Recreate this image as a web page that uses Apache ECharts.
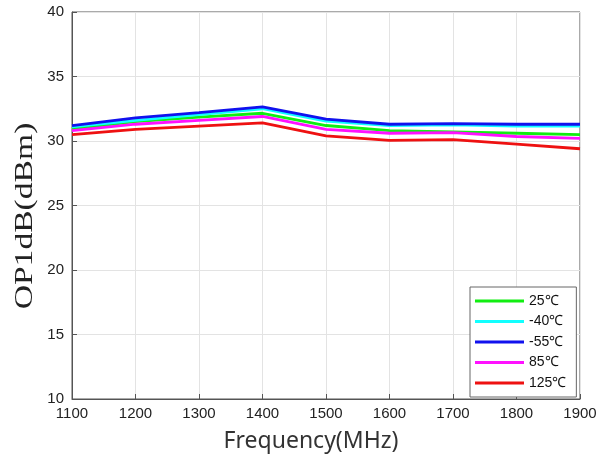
<!DOCTYPE html>
<html>
<head>
<meta charset="utf-8">
<script src="https://cdn.jsdelivr.net/npm/echarts@6/dist/echarts.min.js"></script>
<style>html,body{margin:0;padding:0;background:#fff}#c{width:609px;height:458px}</style>
</head>
<body>
<div id="c"></div>
<script>
var categories = [1100, 1200, 1300, 1400, 1500, 1600, 1700, 1800, 1900];
var seriesNames = ['25℃', '-40℃', '-55℃', '85℃', '125℃'];
var t25  = [30.95, 31.5, 31.85, 32.15, 31.2, 30.8, 30.7, 30.6, 30.5];
var tm40 = [31.1, 31.6, 32.05, 32.5, 31.55, 31.2, 31.25, 31.15, 31.15];
var tm55 = [31.2, 31.8, 32.2, 32.65, 31.7, 31.3, 31.35, 31.3, 31.3];
var t85  = [30.8, 31.3, 31.6, 31.9, 30.9, 30.6, 30.65, 30.35, 30.2];
var t125 = [30.5, 30.9, 31.15, 31.4, 30.4, 30.05, 30.1, 29.75, 29.4];
var yTicks = [10, 15, 20, 25, 30, 35, 40];
var xTitle = 'Frequency(MHz)';
var yTitle = 'OP1dB(dBm)';

var colors = ['#11ee11', '#11ffff', '#1111ee', '#ff11ff', '#ee1111'];
var dataSets = [t25, tm40, tm55, t85, t125];
var SANS = "'Liberation Sans', Arial, sans-serif";
var SERIF = "'Liberation Serif', 'Times New Roman', serif";

function pairs(arr) { return categories.map(function (c, i) { return [c, arr[i]]; }); }

var chart = echarts.init(document.getElementById('c'));
chart.setOption({
  animation: false,
  backgroundColor: '#fff',
  grid: { left: 72, right: 29, top: 12, bottom: 59, show: true, borderColor: '#555', borderWidth: 1, backgroundColor: 'transparent' },
  graphic: [{
    type: 'text', x: 25, y: 216, rotation: Math.PI / 2, scaleX: 1.12, scaleY: 0.86,
    style: { text: yTitle, font: "30px 'Liberation Serif', 'Times New Roman', serif", fill: '#222', align: 'center', verticalAlign: 'middle' }
  }],
  legend: {
    orient: 'vertical', left: 470, top: 287,
    backgroundColor: '#fff', borderColor: '#666', borderWidth: 1,
    padding: [7, 10, 7, 5], itemGap: 6.5, itemWidth: 49, itemHeight: 3,
    icon: 'rect',
    textStyle: { fontFamily: SANS, fontSize: 14, color: '#111' },
    data: seriesNames
  },
  xAxis: {
    type: 'value', min: 1100, max: 1900, interval: 100,
    name: xTitle, nameLocation: 'middle', nameGap: 31,
    nameTextStyle: { fontFamily: "'Noto Sans', sans-serif", fontSize: 23, color: '#333', padding: [0, 30, 0, 0] },
    axisLine: { show: true, lineStyle: { color: '#555' } },
    axisTick: { show: true, inside: true, length: 5, lineStyle: { color: '#555' } },
    axisLabel: { fontFamily: SANS, fontSize: 15, color: '#222', margin: 7,
      formatter: function (v) { return String(v); } },
    splitLine: { show: true, lineStyle: { color: '#e3e3e3' } }
  },
  yAxis: {
    type: 'value', min: 10, max: 40, interval: 5,
    axisLine: { show: true, lineStyle: { color: '#555' } },
    axisTick: { show: true, inside: true, length: 5, lineStyle: { color: '#555' } },
    axisLabel: { fontFamily: SANS, fontSize: 15, color: '#222', margin: 8,
      formatter: function (v) { return yTicks.indexOf(v) >= 0 ? String(v) : ''; } },
    splitLine: { show: true, lineStyle: { color: '#e3e3e3' } }
  },
  series: dataSets.map(function (d, i) {
    return {
      name: seriesNames[i], type: 'line', data: pairs(d),
      showSymbol: false, symbol: 'none',
      lineStyle: { color: colors[i], width: 2.8 },
      itemStyle: { color: colors[i] }
    };
  })
});
</script>
</body>
</html>
